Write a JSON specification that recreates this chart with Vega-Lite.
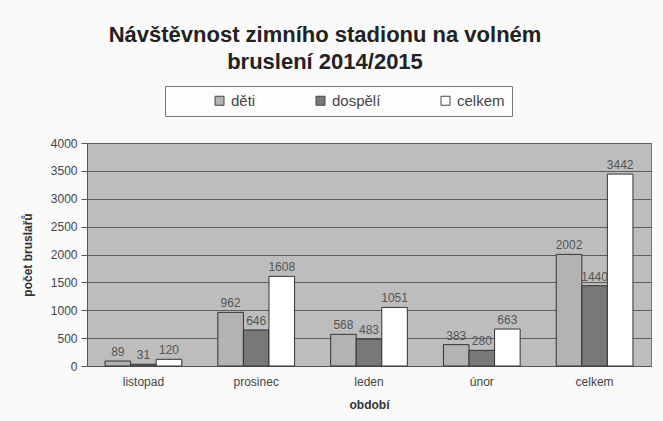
{
  "$schema": "https://vega.github.io/schema/vega-lite/v6.json",
  "width": 564,
  "height": 223,
  "autosize": {"type": "none"},
  "padding": {"left": 87, "top": 143, "right": 12, "bottom": 55},
  "background": "#fafafa",
  "title": {
    "text": ["Návštěvnost zimního stadionu na volném", "bruslení 2014/2015"],
    "font": "Liberation Sans",
    "fontSize": 22,
    "fontWeight": "bold",
    "color": "#222",
    "anchor": "middle",
    "dx": -44,
    "offset": 12,
    "lineHeight": 27
  },
  "data": {
    "values": [
      {"obdobi": "listopad", "skupina": "děti", "pocet": 89},
      {"obdobi": "listopad", "skupina": "dospělí", "pocet": 31},
      {"obdobi": "listopad", "skupina": "celkem", "pocet": 120},
      {"obdobi": "prosinec", "skupina": "děti", "pocet": 962},
      {"obdobi": "prosinec", "skupina": "dospělí", "pocet": 646},
      {"obdobi": "prosinec", "skupina": "celkem", "pocet": 1608},
      {"obdobi": "leden", "skupina": "děti", "pocet": 568},
      {"obdobi": "leden", "skupina": "dospělí", "pocet": 483},
      {"obdobi": "leden", "skupina": "celkem", "pocet": 1051},
      {"obdobi": "únor", "skupina": "děti", "pocet": 383},
      {"obdobi": "únor", "skupina": "dospělí", "pocet": 280},
      {"obdobi": "únor", "skupina": "celkem", "pocet": 663},
      {"obdobi": "celkem", "skupina": "děti", "pocet": 2002},
      {"obdobi": "celkem", "skupina": "dospělí", "pocet": 1440},
      {"obdobi": "celkem", "skupina": "celkem", "pocet": 3442}
    ]
  },
  "encoding": {
    "x": {
      "field": "obdobi",
      "type": "nominal",
      "sort": ["listopad", "prosinec", "leden", "únor", "celkem"],
      "scale": {"paddingInner": 0.32, "paddingOuter": 0.16},
      "axis": {
        "title": "období",
        "labelAngle": 0,
        "ticks": false,
        "labelPadding": 10,
        "titlePadding": 12
      }
    },
    "xOffset": {
      "field": "skupina",
      "type": "nominal",
      "sort": ["děti", "dospělí", "celkem"],
      "scale": {"paddingInner": 0, "paddingOuter": 0}
    },
    "y": {
      "field": "pocet",
      "type": "quantitative",
      "scale": {"domain": [0, 4000], "nice": false},
      "axis": {
        "title": "počet bruslařů",
        "format": "d",
        "values": [0, 500, 1000, 1500, 2000, 2500, 3000, 3500, 4000],
        "titlePadding": 16
      }
    }
  },
  "layer": [
    {
      "mark": {"type": "bar", "stroke": "#333", "strokeWidth": 1},
      "encoding": {
        "color": {
          "field": "skupina",
          "type": "nominal",
          "sort": ["děti", "dospělí", "celkem"],
          "scale": {"domain": ["děti", "dospělí", "celkem"], "range": ["#b3b3b3", "#787878", "#ffffff"]},
          "legend": {
            "title": " ",
            "titleOrient": "left",
            "titlePadding": 40,
            "orient": "none",
            "legendX": 78,
            "legendY": -57,
            "direction": "horizontal",
            "columns": 3,
            "gridAlign": "each",
            "columnPadding": 57,
            "symbolType": "square",
            "symbolSize": 81,
            "symbolStrokeColor": "#444",
            "symbolStrokeWidth": 1,
            "labelFont": "Liberation Sans",
            "labelFontSize": 15,
            "labelColor": "#444",
            "labelOffset": 4,
            "padding": 7,
            "strokeColor": "#777",
            "fillColor": "#fdfdfd"
          }
        }
      }
    },
    {
      "mark": {"type": "text", "dy": -9, "fontSize": 12, "color": "#555", "font": "Liberation Sans"},
      "encoding": {
        "text": {"field": "pocet", "type": "quantitative"}
      }
    }
  ],
  "config": {
    "font": "Liberation Sans",
    "view": {"fill": "#bdbdbd", "stroke": "#777"},
    "axis": {
      "labelFont": "Liberation Sans",
      "labelFontSize": 12,
      "labelColor": "#444",
      "titleFont": "Liberation Sans",
      "titleFontSize": 12,
      "titleFontWeight": "bold",
      "titleColor": "#333",
      "domainColor": "#555",
      "tickColor": "#555",
      "gridColor": "#5e5e5e",
      "gridWidth": 1
    },
    "axisX": {"grid": false},
    "axisY": {"grid": true, "tickSize": 6, "labelPadding": 4, "domain": true}
  }
}
